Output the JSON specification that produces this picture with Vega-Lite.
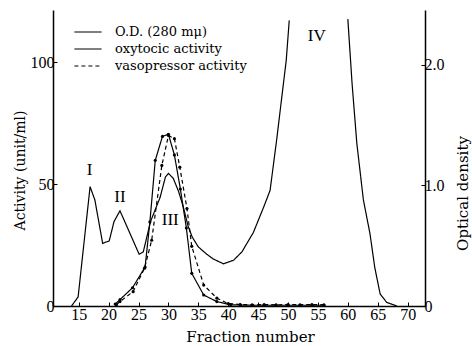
{
  "$schema": "https://vega.github.io/schema/vega-lite/v6.json",
  "width": 372,
  "height": 296,
  "autosize": {"type": "none"},
  "padding": {"left": 53, "top": 10, "right": 47, "bottom": 40},
  "background": "white",
  "config": {
    "font": "Liberation Serif",
    "view": {"stroke": null},
    "style": {
      "guide-label": {"font": "Liberation Serif", "fontSize": 16, "fill": "black"},
      "guide-title": {"font": "DejaVu Serif", "fontSize": 14, "fill": "black", "fontWeight": "normal"}
    },
    "axis": {
      "grid": false,
      "labelOverlap": false,
      "domainColor": "black",
      "domainWidth": 1.5,
      "tickColor": "black",
      "labelColor": "black",
      "titleColor": "black",
      "labelFont": "Liberation Serif",
      "titleFont": "DejaVu Serif",
      "labelFontSize": 16,
      "titleFontSize": 14,
      "titleFontWeight": "normal"
    },
    "legend": {
      "labelFont": "DejaVu Serif",
      "labelFontSize": 13,
      "labelColor": "black"
    }
  },
  "datasets": {
    "od": [
      {"f": 13.8, "od": 0, "seg": "a", "series": "O.D. (280 mμ)"},
      {"f": 14.9, "od": 0.075, "seg": "a", "series": "O.D. (280 mμ)"},
      {"f": 16.9, "od": 0.99, "seg": "a", "series": "O.D. (280 mμ)"},
      {"f": 17.7, "od": 0.88, "seg": "a", "series": "O.D. (280 mμ)"},
      {"f": 19.0, "od": 0.52, "seg": "a", "series": "O.D. (280 mμ)"},
      {"f": 20.1, "od": 0.54, "seg": "a", "series": "O.D. (280 mμ)"},
      {"f": 20.9, "od": 0.70, "seg": "a", "series": "O.D. (280 mμ)"},
      {"f": 21.9, "od": 0.79, "seg": "a", "series": "O.D. (280 mμ)"},
      {"f": 25.1, "od": 0.43, "seg": "a", "series": "O.D. (280 mμ)"},
      {"f": 25.8, "od": 0.45, "seg": "a", "series": "O.D. (280 mμ)"},
      {"f": 27.0, "od": 0.70, "seg": "a", "series": "O.D. (280 mμ)"},
      {"f": 28.6, "od": 0.90, "seg": "a", "series": "O.D. (280 mμ)"},
      {"f": 29.5, "od": 1.07, "seg": "a", "series": "O.D. (280 mμ)"},
      {"f": 30.0, "od": 1.10, "seg": "a", "series": "O.D. (280 mμ)"},
      {"f": 30.8, "od": 1.06, "seg": "a", "series": "O.D. (280 mμ)"},
      {"f": 31.7, "od": 0.95, "seg": "a", "series": "O.D. (280 mμ)"},
      {"f": 32.5, "od": 0.82, "seg": "a", "series": "O.D. (280 mμ)"},
      {"f": 33.3, "od": 0.66, "seg": "a", "series": "O.D. (280 mμ)"},
      {"f": 34.0, "od": 0.57, "seg": "a", "series": "O.D. (280 mμ)"},
      {"f": 35.0, "od": 0.49, "seg": "a", "series": "O.D. (280 mμ)"},
      {"f": 36.4, "od": 0.43, "seg": "a", "series": "O.D. (280 mμ)"},
      {"f": 37.5, "od": 0.39, "seg": "a", "series": "O.D. (280 mμ)"},
      {"f": 39.2, "od": 0.35, "seg": "a", "series": "O.D. (280 mμ)"},
      {"f": 40.9, "od": 0.38, "seg": "a", "series": "O.D. (280 mμ)"},
      {"f": 42.3, "od": 0.45, "seg": "a", "series": "O.D. (280 mμ)"},
      {"f": 44.2, "od": 0.61, "seg": "a", "series": "O.D. (280 mμ)"},
      {"f": 46.0, "od": 0.83, "seg": "a", "series": "O.D. (280 mμ)"},
      {"f": 47.0, "od": 0.96, "seg": "a", "series": "O.D. (280 mμ)"},
      {"f": 48.1, "od": 1.38, "seg": "a", "series": "O.D. (280 mμ)"},
      {"f": 48.9, "od": 1.71, "seg": "a", "series": "O.D. (280 mμ)"},
      {"f": 49.7, "od": 2.04, "seg": "a", "series": "O.D. (280 mμ)"},
      {"f": 50.2, "od": 2.37, "seg": "a", "series": "O.D. (280 mμ)"},
      {"f": 60.0, "od": 2.38, "seg": "b", "series": "O.D. (280 mμ)"},
      {"f": 60.7, "od": 1.85, "seg": "b", "series": "O.D. (280 mμ)"},
      {"f": 61.5, "od": 1.35, "seg": "b", "series": "O.D. (280 mμ)"},
      {"f": 62.6, "od": 0.88, "seg": "b", "series": "O.D. (280 mμ)"},
      {"f": 63.7, "od": 0.60, "seg": "b", "series": "O.D. (280 mμ)"},
      {"f": 64.5, "od": 0.32, "seg": "b", "series": "O.D. (280 mμ)"},
      {"f": 65.4, "od": 0.10, "seg": "b", "series": "O.D. (280 mμ)"},
      {"f": 66.5, "od": 0.03, "seg": "b", "series": "O.D. (280 mμ)"},
      {"f": 68.2, "od": 0, "seg": "b", "series": "O.D. (280 mμ)"}
    ],
    "act": [
      {"f": 21.1, "a": 0.8, "series": "oxytocic activity"},
      {"f": 21.9, "a": 2.6, "series": "oxytocic activity"},
      {"f": 24.0, "a": 7.5, "series": "oxytocic activity"},
      {"f": 26.1, "a": 16, "series": "oxytocic activity"},
      {"f": 26.9, "a": 34.5, "series": "oxytocic activity"},
      {"f": 27.8, "a": 59.8, "series": "oxytocic activity"},
      {"f": 29.0, "a": 69.6, "series": "oxytocic activity"},
      {"f": 30.0, "a": 70.5, "series": "oxytocic activity"},
      {"f": 31.0, "a": 62, "series": "oxytocic activity"},
      {"f": 32.0, "a": 48, "series": "oxytocic activity"},
      {"f": 33.0, "a": 32, "series": "oxytocic activity"},
      {"f": 33.9, "a": 13.4, "series": "oxytocic activity"},
      {"f": 35.9, "a": 4.5, "series": "oxytocic activity"},
      {"f": 38.1, "a": 1.8, "series": "oxytocic activity"},
      {"f": 40.4, "a": 0.5, "series": "oxytocic activity"},
      {"f": 42, "a": 0.4, "series": "oxytocic activity"},
      {"f": 44, "a": 0.3, "series": "oxytocic activity"},
      {"f": 46, "a": 0.3, "series": "oxytocic activity"},
      {"f": 48, "a": 0.3, "series": "oxytocic activity"},
      {"f": 50, "a": 0.3, "series": "oxytocic activity"},
      {"f": 52, "a": 0.3, "series": "oxytocic activity"},
      {"f": 54, "a": 0.3, "series": "oxytocic activity"},
      {"f": 56, "a": 0.3, "series": "oxytocic activity"},
      {"f": 21.3, "a": 0.5, "series": "vasopressor activity"},
      {"f": 21.9, "a": 1.8, "series": "vasopressor activity"},
      {"f": 24.1, "a": 5.9, "series": "vasopressor activity"},
      {"f": 26.0, "a": 15.5, "series": "vasopressor activity"},
      {"f": 27.2, "a": 27, "series": "vasopressor activity"},
      {"f": 28.9, "a": 57.7, "series": "vasopressor activity"},
      {"f": 30.0, "a": 70, "series": "vasopressor activity"},
      {"f": 31.0, "a": 68.7, "series": "vasopressor activity"},
      {"f": 31.9, "a": 57, "series": "vasopressor activity"},
      {"f": 33.1, "a": 40, "series": "vasopressor activity"},
      {"f": 33.9, "a": 24.5, "series": "vasopressor activity"},
      {"f": 35.9, "a": 8.6, "series": "vasopressor activity"},
      {"f": 38.1, "a": 3.2, "series": "vasopressor activity"},
      {"f": 40.0, "a": 1, "series": "vasopressor activity"},
      {"f": 42, "a": 0.6, "series": "vasopressor activity"},
      {"f": 44, "a": 0.5, "series": "vasopressor activity"},
      {"f": 46, "a": 0.6, "series": "vasopressor activity"},
      {"f": 48, "a": 0.5, "series": "vasopressor activity"},
      {"f": 50, "a": 0.6, "series": "vasopressor activity"},
      {"f": 52, "a": 0.5, "series": "vasopressor activity"},
      {"f": 54, "a": 0.6, "series": "vasopressor activity"},
      {"f": 56, "a": 0.5, "series": "vasopressor activity"}
    ],
    "labels": [
      {"f": 16.8, "a": 55.7, "t": "I"},
      {"f": 21.9, "a": 44.8, "t": "II"},
      {"f": 30.3, "a": 35.2, "t": "III"},
      {"f": 54.8, "a": 111, "t": "IV"}
    ]
  },
  "layer": [
    {
      "layer": [
        {
          "data": {"name": "act"},
          "mark": {"type": "line", "color": "black", "strokeWidth": 1.2, "point": {"filled": true, "size": 10, "color": "black"}},
          "encoding": {
            "x": {
              "field": "f", "type": "quantitative",
              "scale": {"domain": [10.7, 72.9], "nice": false, "zero": false},
              "axis": {"values": [15, 20, 25, 30, 35, 40, 45, 50, 55, 60, 65, 70], "labelOverlap": false, "tickSize": -4, "labelPadding": 4, "labelFont": "Liberation Serif", "labelFontSize": 16, "titleFont": "DejaVu Serif", "titleFontSize": 15, "title": "Fraction number", "titleX": 197, "titleY": 23}
            },
            "y": {
              "field": "a", "type": "quantitative",
              "scale": {"domain": [0, 121.5], "nice": false},
              "axis": {"orient": "left", "values": [0, 50, 100], "tickSize": -4, "labelPadding": 3, "labelFont": "Liberation Serif", "labelFontSize": 16, "titleFont": "DejaVu Serif", "titleFontSize": 14, "title": "Activity (unit/ml)", "titleAngle": 270, "titleBaseline": "middle", "titleX": -33, "titleY": 160}
            },
            "strokeDash": {
              "field": "series", "type": "nominal",
              "scale": {"domain": ["O.D. (280 mμ)", "oxytocic activity", "vasopressor activity"], "range": [[1, 0], [1, 0], [4, 3]]},
              "legend": {
                "title": null, "orient": "none", "legendX": 26, "legendY": 13,
                "symbolType": "M-1.7,0H1.7", "symbolSize": 256, "symbolStrokeColor": "black", "symbolStrokeWidth": 1.2,
                "labelOffset": 18, "rowPadding": 1, "labelFont": "DejaVu Serif", "labelFontSize": 13,
                "encode": {
                  "symbols": {"update": {"stroke": {"value": "black"}, "strokeWidth": {"value": 1.2}, "opacity": {"value": 1}}},
                  "labels": {"update": {"font": {"value": "DejaVu Serif"}, "fontSize": {"value": 13}, "fill": {"value": "black"}}}
                }
              }
            }
          }
        },
        {
          "data": {"name": "labels"},
          "mark": {"type": "text", "fontSize": 17, "font": "Liberation Serif", "color": "black", "baseline": "middle", "align": "center"},
          "encoding": {
            "x": {
              "field": "f", "type": "quantitative",
              "axis": {"values": [15, 20, 25, 30, 35, 40, 45, 50, 55, 60, 65, 70], "labelOverlap": false, "tickSize": -4, "labelPadding": 4, "labelFont": "Liberation Serif", "labelFontSize": 16, "titleFont": "DejaVu Serif", "titleFontSize": 15, "title": "Fraction number", "titleX": 197, "titleY": 23}
            },
            "y": {"field": "a", "type": "quantitative"},
            "text": {"field": "t"}
          }
        }
      ]
    },
    {
      "data": {"name": "od"},
      "mark": {"type": "line", "color": "black", "strokeWidth": 1.2},
      "encoding": {
        "x": {
          "field": "f", "type": "quantitative",
          "axis": {"values": [15, 20, 25, 30, 35, 40, 45, 50, 55, 60, 65, 70], "labelOverlap": false, "tickSize": -4, "labelPadding": 4, "labelFont": "Liberation Serif", "labelFontSize": 16, "titleFont": "DejaVu Serif", "titleFontSize": 15, "title": "Fraction number", "titleX": 197, "titleY": 23}
        },
        "y": {
          "field": "od", "type": "quantitative",
          "scale": {"domain": [0, 2.456], "nice": false},
          "axis": {"orient": "right", "values": [0, 1, 2], "tickSize": -4, "labelPadding": 3, "labelFont": "Liberation Serif", "labelFontSize": 16, "titleFont": "DejaVu Serif", "titleFontSize": 15, "labelExpr": "datum.value == 0 ? '0' : format(datum.value, '.1f')", "title": "Optical density", "titleAngle": 270, "titleBaseline": "middle", "titleX": 37, "titleY": 183}
        },
        "detail": {"field": "seg"},
        "strokeDash": {"field": "series", "type": "nominal"}
      }
    }
  ],
  "resolve": {"scale": {"y": "independent"}}
}
